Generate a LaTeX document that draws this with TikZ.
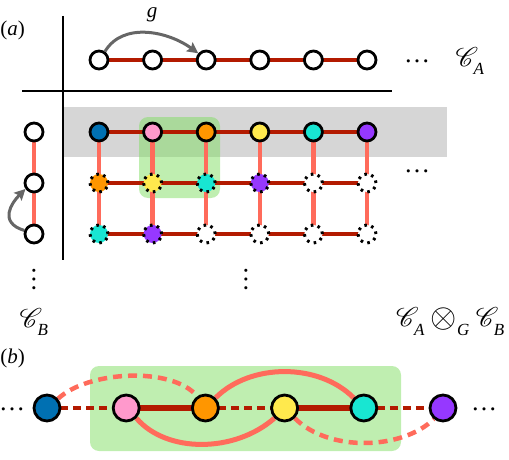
\RequirePackage{fix-cm}
\documentclass[tikz,border=0pt]{standalone}
\usepackage{amsmath}
\usepackage{fontspec}
\setmainfont{Liberation Serif}
\DeclareFontFamily{U}{rsfs}{\skewchar\font127 }
\DeclareFontShape{U}{rsfs}{m}{n}{<-> rsfs10}{}
\usepackage{mathrsfs}
\usetikzlibrary{arrows.meta}
\newcommand{\lowsub}[1]{\raisebox{-4pt}{\fontsize{17}{20}\selectfont\itshape #1}}
\newcommand{\bigtens}{\mathbin{\raisebox{-1pt}{\scalebox{1.25}{$\otimes$}}}}
\definecolor{cblue}{RGB}{0,112,178}
\definecolor{cpink}{RGB}{255,153,204}
\definecolor{corange}{RGB}{255,150,0}
\definecolor{cyellow}{RGB}{255,233,77}
\definecolor{cteal}{RGB}{24,230,210}
\definecolor{cpurple}{RGB}{150,56,255}
\definecolor{dkred}{RGB}{179,26,0}
\definecolor{coral}{RGB}{255,107,91}
\definecolor{band}{RGB}{214,214,214}
\definecolor{grn}{RGB}{127,221,97}
\definecolor{agray}{RGB}{102,102,102}
\pgfdeclarelayer{back}
\pgfdeclarelayer{mid}
\pgfsetlayers{back,mid,main}
\begin{document}
\begin{tikzpicture}[x=1pt,y=-1pt,
  cn/.style={circle,draw=black,line width=2.8pt,minimum size=18pt,inner sep=0pt,fill=white},
  dn/.style={circle,draw=black,line width=3pt,minimum size=18pt,inner sep=0pt,fill=white,dash pattern=on 2.6pt off 4.47pt},
  pn/.style={circle,draw=black,line width=2.8pt,minimum size=26pt,inner sep=0pt},
  hl/.style={draw=dkred,line width=4.5pt},
  vl/.style={draw=coral,line width=4.5pt},
  hdash/.style={draw=dkred,line width=4pt,dash pattern=on 8pt off 5pt},
  cdash/.style={draw=coral,line width=4.5pt,dash pattern=on 9pt off 6pt},
  csolid/.style={draw=coral,line width=5pt},
  hthick/.style={draw=dkred,line width=6pt},
  garrow/.style={draw=agray,line width=3pt,-{Stealth[length=11pt,width=11pt,inset=2pt]}},
  greenbox/.style={fill=grn,fill opacity=0.5,rounded corners=9pt},
  rule/.style={draw=black,line width=1.2pt},
  lbl/.style={font=\fontsize{21}{24}\selectfont,inner sep=0pt},
  mlbl/.style={font=\fontsize{27}{32}\selectfont,inner sep=0pt},
  dotsl/.style={font=\fontsize{26}{28}\selectfont,inner sep=0pt}]
\useasboundingbox (0,0) rectangle (509,460);

% ---------- part (a) ----------
% top row C_A
\foreach \i in {1,...,6} \node[cn] (ca\i) at ({99+53.6*(\i-1)},60) {};
% left column C_B
\foreach \i/\y in {1/132,2/183,3/234} \node[cn] (cb\i) at (34,\y) {};
% grid
\foreach \c [count=\i] in {cblue,cpink,corange,cyellow,cteal,cpurple}
  \node[cn,fill=\c] (g1\i) at ({99+53.6*(\i-1)},132) {};
\foreach \c [count=\i] in {corange,cyellow,cteal,cpurple,white,white}
  \node[dn,fill=\c] (g2\i) at ({99+53.6*(\i-1)},183) {};
\foreach \c [count=\i] in {cteal,cpurple,white,white,white,white}
  \node[dn,fill=\c] (g3\i) at ({99+53.6*(\i-1)},234) {};

\begin{pgfonlayer}{back}
  \fill[band] (64,107) rectangle (447,157);
  \fill[greenbox] (139,117) rectangle (220,198);
  \fill[greenbox] (90,366) rectangle (401,451);
\end{pgfonlayer}

\begin{pgfonlayer}{mid}
  \foreach \i [evaluate=\i as \j using int(\i+1)] in {1,...,5} {
    \draw[hl] (ca\i.center) -- (ca\j.center);
    \draw[hl] (g1\i.center) -- (g1\j.center);
    \draw[hl] (g2\i.center) -- (g2\j.center);
    \draw[hl] (g3\i.center) -- (g3\j.center);
  }
  \foreach \i in {1,...,6} {
    \draw[vl] (g1\i.center) -- (g2\i.center);
    \draw[vl] (g2\i.center) -- (g3\i.center);
  }
  \draw[vl] (cb1.center) -- (cb2.center);
  \draw[vl] (cb2.center) -- (cb3.center);
\end{pgfonlayer}

% rules
\coordinate (hA) at (22,91);
\coordinate (hB) at (392,91);
\coordinate (vA) at (63,16);
\coordinate (vB) at (63,260);
\draw[rule] (hA) -- (hB);
\draw[rule] (vA) -- (vB);

% group action arrows
\draw[garrow] (ca1.55) .. controls +(18,-30) and +(-30,-22) .. (ca3.140);
\node[lbl] (lg) at (152,15) {\textit{g}};
\draw[garrow] (cb3.160) .. controls +(-26,-8) and +(-14,14) .. (cb2.215);

% labels and dots
\node[lbl,anchor=east] (la) at (25,30) {(\textit{a})};
\node[dotsl] (d1) at (417,61) {…};
\node[dotsl] (d2) at (417,171) {…};
\node[dotsl,rotate=90] (d3) at (34,279) {…};
\node[dotsl,rotate=90] (d4) at (246,279) {…};
\node[mlbl] (lca) at (470,61) {$\mathscr{C}_{\lowsub{A}}$};
\node[mlbl] (lcb) at (34,322) {$\mathscr{C}_{\lowsub{B}}$};
\node[mlbl,anchor=east] (lab) at (505,322) {$\mathscr{C}_{\lowsub{A}}\bigtens_{\lowsub{G}}\mathscr{C}_{\lowsub{B}}$};

% ---------- part (b) ----------
\node[lbl,anchor=east] (lb) at (25,358) {(\textit{b})};
\foreach \c [count=\i] in {cblue,cpink,corange,cyellow,cteal,cpurple}
  \node[pn,fill=\c] (p\i) at ({47+79.2*(\i-1)},408) {};
\node[dotsl] (d5) at (12,409) {…};
\node[dotsl] (d6) at (484,409) {…};

\begin{pgfonlayer}{mid}
  \draw[hdash] (p1.center) -- (p2.center);
  \draw[hdash] (p3.center) -- (p4.center);
  \draw[hdash] (p5.center) -- (p6.center);
  \draw[hthick] (p2.center) -- (p3.center);
  \draw[hthick] (p4.center) -- (p5.center);
  \draw[cdash] (p1.40) .. controls +(30,-28) and +(-25,-30) .. (p3.125);
  \draw[csolid] (p2.-45) .. controls +(30,35) and +(-40,35) .. (p4.-135);
  \draw[csolid] (p3.45) .. controls +(35,-35) and +(-35,-35) .. (p5.135);
  \draw[cdash] (p4.-45) .. controls +(35,35) and +(-30,30) .. (p6.-130);
\end{pgfonlayer}
\end{tikzpicture}
\end{document}
